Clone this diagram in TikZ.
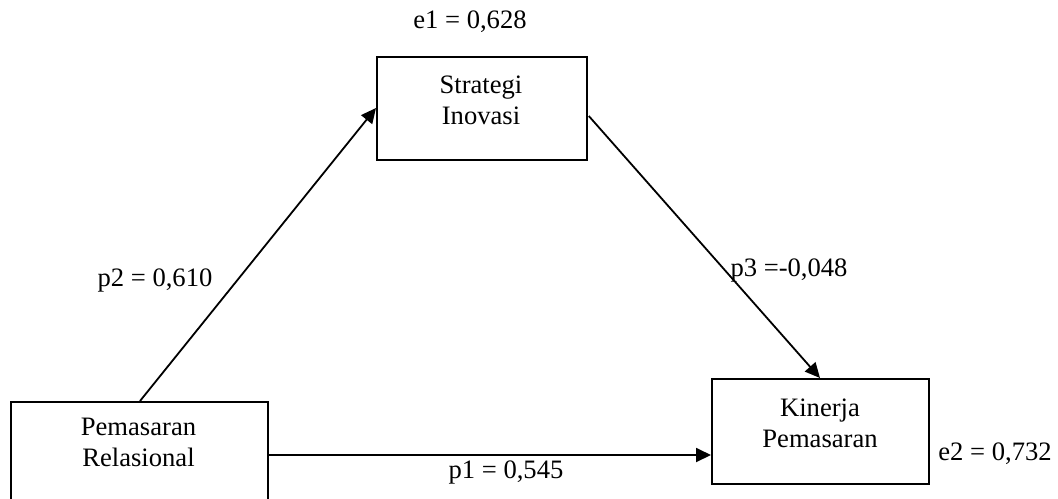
\documentclass[tikz,border=0pt]{standalone}
\usepackage{fontspec}
\setmainfont{Liberation Serif}
\usetikzlibrary{arrows.meta,calc}
\begin{document}
\begin{tikzpicture}[x=0.5pt,y=-0.5pt,
  box/.style={draw=black,line width=0.9pt,rectangle,inner sep=0pt,anchor=north west},
  boxtext/.style={align=center,inner sep=0pt,font=\fontsize{13.3}{15.5}\selectfont},
  lbl/.style={inner sep=0pt,anchor=base,font=\fontsize{13.3}{15.5}\selectfont},
  arr/.style={line width=0.9pt,-{Triangle[length=7.5pt,width=7pt]}}]
\useasboundingbox (0,0) rectangle (1058,498);
\clip (0,0) rectangle (1058,498);
% boxes
\node[box,minimum width=105pt,minimum height=51.5pt] (si) at (376,56) {};
\node[box,minimum width=128.5pt,minimum height=56pt] (pr) at (10,401) {};
\node[box,minimum width=108.5pt,minimum height=52.5pt] (kp) at (711,378) {};
% box texts
\node[boxtext] (sit) at (481,100) {Strategi\\Inovasi};
\node[boxtext] (prt) at (138.5,442) {Pemasaran\\Relasional};
\node[boxtext] (kpt) at (820,423) {Kinerja\\Pemasaran};
% connectors
\draw[arr] ($(pr.north west)+(130,0)$) -- ($(si.north west)+(0,52)$);
\draw[arr] ($(si.north east)+(1,60)$) -- ($(kp.north west)+(109,0)$);
\draw[arr] ($(pr.north east)+(0,54)$) -- ($(kp.north west)+(0,77)$);
% labels
\node[lbl] (e1) at (470,28) {e1 = 0,628};
\node[lbl] (p2) at (155,286) {p2 = 0,610};
\node[lbl] (p3) at (789,276) {p3 =-0,048};
\node[lbl] (e2) at (995,460) {e2 = 0,732};
\node[lbl] (p1) at (506,478) {p1 = 0,545};
\end{tikzpicture}
\end{document}
